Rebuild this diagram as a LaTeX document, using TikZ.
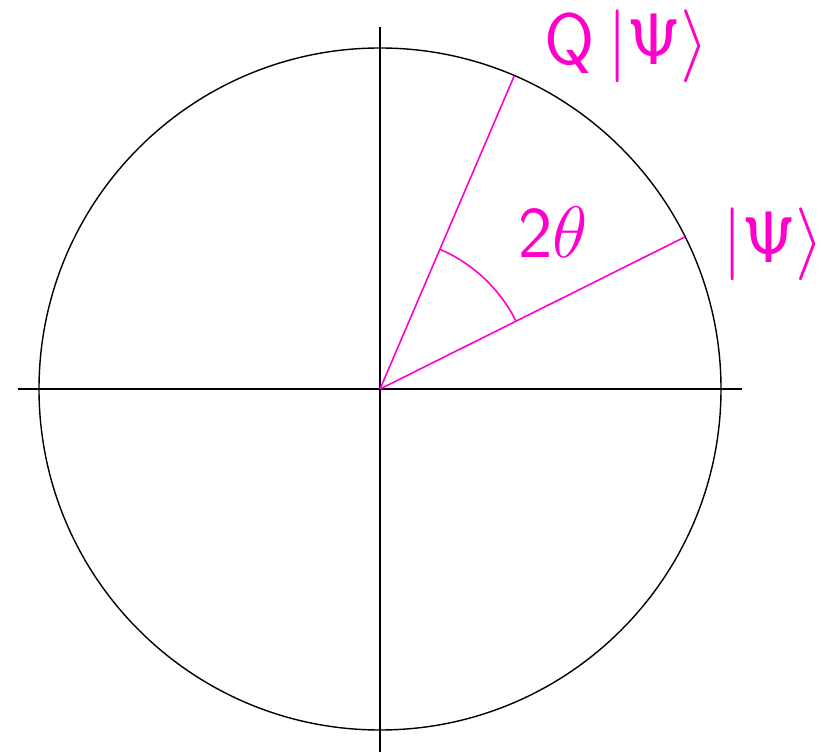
\documentclass[tikz,border=0pt]{standalone}
\usepackage{amsmath, amssymb}
\usepackage{tikz}
\usetikzlibrary{calc}
\definecolor{qmag}{RGB}{255,0,204}
\tikzset{
  axis/.style  ={line width=0.6pt, black},
  bloch/.style ={line width=0.4pt, black},
  ray/.style   ={line width=0.45pt, qmag},
  lbl/.style   ={text=qmag, font=\fontsize{20.7}{24}\selectfont\sffamily, inner sep=0pt},
}

\begin{document}
\begin{tikzpicture}
  \useasboundingbox (-3.80,-3.65) rectangle (4.52,3.89);
  % --- axes and circle ---
  \coordinate (o) at (0,0);
  \coordinate (xl) at (-3.62,0);
  \coordinate (xr) at (3.62,0);
  \coordinate (yb) at (0,-3.63);
  \coordinate (yt) at (0,3.62);
  \draw[bloch] (o) circle (3.41);
  \draw[axis] (xl) -- (xr);
  \draw[axis] (yb) -- (yt);

  % --- states ---
  \coordinate (psi) at (26.5:3.41);
  \coordinate (qpsi) at (66.8:3.41);
  \draw[ray] (o) -- (psi);
  \draw[ray] (o) -- (qpsi);
  \draw[ray] (26.5:1.52) arc (26.5:66.8:1.52);

  % --- labels ---
  \node[lbl] (lqpsi) at (2.47,3.43) {Q\,$\lvert\mathsf{\Psi}\rangle$};
  \node[lbl] (lpsi)  at (3.93,1.45) {$\lvert\mathsf{\Psi}\rangle$};
  \node[lbl] (lang)  at (1.73,1.57) {$\mathsf{2}\theta$};
\end{tikzpicture}
\end{document}
